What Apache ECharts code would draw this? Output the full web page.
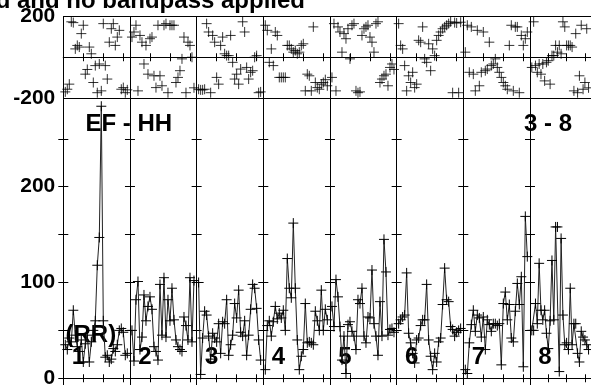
<!DOCTYPE html>
<html>
<head>
<meta charset="utf-8">
<script src="https://cdn.jsdelivr.net/npm/echarts@6/dist/echarts.min.js"></script>
<style>
html, body { margin: 0; padding: 0; background: #fff; }
#chart { width: 591px; height: 389px; }
</style>
</head>
<body>
<div id="chart"></div>
<script>
// channel numbers, same for every baseline panel
const channels = [1, 2, 3, 4, 5, 6, 7, 8, 9, 10, 11, 12, 13, 14, 15, 16,
                  17, 18, 19, 20, 21, 22, 23, 24, 25, 26, 27, 28, 29, 30, 31, 32];
const panelNames = ['1', '2', '3', '4', '5', '6', '7', '8'];

// amplitude per panel
const amp1 = [35, 30, 42, 38, 71, 45, 33, 28, 40, 17, 36, 45, 17, 38, 50, 60, 118, 147, 284, 60, 22, 24, 17, 20, 31, 28, 35, 50, 52, 48, 24, 26];
const amp2 = [50, 18, 82, 101, 30, 43, 87, 60, 75, 85, 72, 33, 28, 19, 98, 45, 105, 43, 82, 60, 94, 61, 40, 33, 30, 28, 64, 55, 40, 105, 38, 102];
const amp3 = [100, 4, 42, 70, 66, 44, 20, 47, 42, 38, 57, 26, 59, 57, 82, 24, 35, 45, 78, 63, 92, 48, 44, 60, 24, 45, 72, 98, 94, 73, 40, 19];
const amp4 = [9, 55, 60, 44, 59, 75, 62, 68, 63, 71, 50, 125, 94, 84, 162, 94, 40, 9, 23, 30, 78, 37, 38, 37, 35, 70, 60, 50, 92, 50, 72, 61];
const amp5 = [75, 54, 103, 85, 54, 19, 44, 5, 56, 59, 49, 44, 30, 82, 78, 94, 44, 37, 64, 63, 113, 57, 44, 24, 80, 44, 145, 111, 45, 51, 52, 48];
const amp6 = [57, 61, 64, 66, 110, 47, 37, 26, 16, 40, 42, 55, 61, 61, 98, 40, 23, 9, 26, 17, 38, 42, 77, 115, 82, 80, 54, 51, 44, 48, 50, 52];
const amp7 = [9, 5, 37, 56, 71, 49, 66, 63, 43, 64, 30, 61, 56, 49, 57, 57, 55, 57, 14, 78, 90, 61, 77, 42, 38, 70, 99, 77, 106, 12, 169, 127];
const amp8 = [50, 50, 78, 57, 120, 71, 61, 71, 47, 31, 60, 123, 61, 158, 158, 7, 146, 66, 35, 37, 30, 94, 35, 57, 57, 26, 17, 49, 43, 40, 35, 30];

// phase per panel (degrees)
const phase1 = [-170, -157, -132, 174, 170, 41, 58, 50, 116, 157, -83, -60, 50, 17, -124, -41, -174, -33, -165, 165, -41, -107, 74, 140, 165, 58, 99, 132, -157, -149, -174, -160];
const phase2 = [99, 124, 157, -165, 107, 74, -33, 58, -83, 91, 99, -91, -149, 157, -91, -140, 157, 165, -174, 157, 157, 157, -124, -99, -66, -8, 99, -174, 74, 58, 0, -150];
const phase3 = [-157, -160, -160, -157, 165, 124, -174, 107, 74, -99, -132, 58, 99, 17, 8, 8, 107, -25, -107, -83, -132, -58, 174, 124, -50, -107, -74, -66, 0, 8, -174, -170];
const phase4 = [157, 132, -25, 41, -41, 124, 107, -99, -99, -99, -99, 58, 58, 41, 25, 33, 17, 25, 58, 66, -165, -83, -91, -165, 149, -124, -149, -157, -132, -124, -110, -140];
const phase5 = [-99, 165, -165, 149, 124, 25, 116, 91, 140, -8, 157, 165, -165, -174, -170, 107, 140, 149, 157, 99, 74, 25, 165, 174, -124, -107, -91, -83, -140, -50, -33, -60];
const phase6 = [165, 58, 41, -41, -165, -91, -124, -74, -149, -132, 83, 74, 149, -8, -25, 66, -66, 41, 8, 83, 107, 124, 140, 149, 157, 165, 174, -174, 170, 168, -174, 172];
const phase7 = [25, 157, -74, 149, -83, -165, 132, -140, -74, 124, -66, -58, 74, -41, -33, -8, -50, -74, -99, -124, -140, -157, 58, 157, -165, 149, 149, -174, 107, 58, 91, 124];
const phase8 = [-50, 174, -41, -74, -33, -83, -33, -116, -25, -17, -132, 8, 8, 58, 25, 58, 17, 174, 149, 58, 58, 58, 50, -165, 116, -174, -91, 157, -157, -124, 140, -150];

const amps = [amp1, amp2, amp3, amp4, amp5, amp6, amp7, amp8];
const phases = [phase1, phase2, phase3, phase4, phase5, phase6, phase7, phase8];

const phaseLabels = [-200, 200];
const ampTicks = [0, 50, 100, 150, 200, 250];
const ampLabels = [0, 100, 200];

const LEFT = 63.3, PW = 66.67;
const TOP_Y = 16.5, TOP_H = 81.5, BOT_Y = 98, BOT_H = 286.5;
const FONT = 'Liberation Sans, Arial, Helvetica, sans-serif';
const plus = 'path://M0,5L10,5M5,0L5,10';

const line = {show: true, lineStyle: {color: '#000', width: 1}};
const label = {fontSize: 21, fontWeight: 'bold', color: '#000', fontFamily: FONT, margin: 8};

const grid = [], xAxis = [], yAxis = [], series = [];

function addPanel(i, row) {
    const g = grid.length;
    const isTop = row === 0;
    grid.push({left: LEFT + i * PW, top: isTop ? TOP_Y : BOT_Y, width: PW, height: isTop ? TOP_H : BOT_H});
    ['bottom', 'top'].forEach(pos => {
        xAxis.push({
            gridIndex: g, type: 'value', position: pos, min: 0, max: 100 / 3, interval: 10,
            axisLine: line, axisTick: {show: true, inside: true, length: 4, lineStyle: {color: '#000'}},
            axisLabel: {show: false}, splitLine: {show: false}
        });
    });
    ['left', 'right'].forEach(pos => {
        const first = i === 0 && pos === 'left';
        if (isTop) {
            yAxis.push({
                gridIndex: g, type: 'value', position: pos, min: -200, max: 200, interval: 200,
                axisLine: line, axisTick: {show: false},
                axisLabel: Object.assign({show: first, customValues: phaseLabels}, label),
                splitLine: {show: pos === 'left', lineStyle: {color: '#000', width: 1}}
            });
        } else {
            yAxis.push({
                gridIndex: g, type: 'value', position: pos, min: -6.5, max: 292.6,
                axisLine: line,
                axisTick: {show: true, inside: true, length: 5, customValues: ampTicks, lineStyle: {color: '#000'}},
                axisLabel: Object.assign({show: first, customValues: ampLabels}, label),
                splitLine: {show: false}
            });
        }
    });
    const src = isTop ? phases[i] : amps[i];
    series.push({
        type: isTop ? 'scatter' : 'line',
        xAxisIndex: 2 * g, yAxisIndex: 2 * g,
        data: channels.map((c, j) => [c, src[j]]),
        symbol: plus, symbolSize: 10, showSymbol: true, clip: false,
        itemStyle: {color: 'rgba(0,0,0,0)', borderColor: '#000', borderWidth: 1},
        lineStyle: {color: '#222', width: 1},
        silent: true
    });
}

for (let i = 0; i < 8; i++) addPanel(i, 0);
for (let i = 0; i < 8; i++) addPanel(i, 1);

const txt = (text, x, y, align, size) => ({
    type: 'text', x: x, y: y, silent: true,
    style: {text: text, fill: '#000', font: 'bold ' + size + 'px ' + FONT, align: align, verticalAlign: 'middle'}
});

const graphic = [
    txt('d and no bandpass applied', 305, 1.5, 'right', 24),
    txt('EF - HH', 85.5, 124.3, 'left', 24),
    txt('3 - 8', 524, 124, 'left', 24),
    txt('(RR)', 65.5, 335, 'left', 24)
];
panelNames.forEach((n, i) => graphic.push(txt(n, LEFT + i * PW + 15, 357.7, 'center', 24)));

const chart = echarts.init(document.getElementById('chart'));
chart.setOption({
    animation: false,
    backgroundColor: '#fff',
    grid: grid,
    xAxis: xAxis,
    yAxis: yAxis,
    series: series,
    graphic: graphic
});
</script>
</body>
</html>
